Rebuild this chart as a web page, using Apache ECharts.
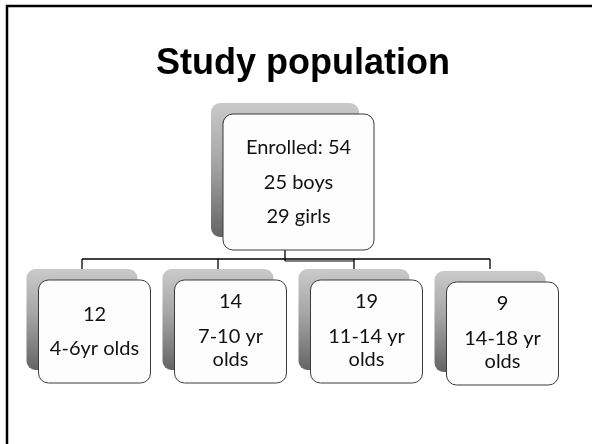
<!DOCTYPE html>
<html><head><meta charset="utf-8">
<script src="https://cdn.jsdelivr.net/npm/echarts@6/dist/echarts.min.js"></script>
<style>html,body{margin:0;padding:0;background:#fff}#c{width:592px;height:444px}</style>
</head><body><div id="c"></div>
<script>
// Data
const title = 'Study population';
const enrolledTotal = 54;
const boys = 25;
const girls = 29;
const ageGroups = ['4-6yr olds', '7-10 yr\nolds', '11-14 yr\nolds', '14-18 yr\nolds'];
const groupCounts = [12, 14, 19, 9];

const chart = echarts.init(document.getElementById('c'));
const FONT = 'Lato, "Open Sans", sans-serif';

function box(cx, top, wBack, hBack, dx, dy, wFront, hFront, texts) {
  const bx = cx - wBack / 2;
  const children = [
    {type: 'rect', shape: {x: bx, y: top, width: wBack, height: hBack, r: 9},
     style: {fill: new echarts.graphic.LinearGradient(0, 0, 0, 1, [
       {offset: 0, color: '#cacaca'}, {offset: 0.45, color: '#a5a5a5'}, {offset: 1, color: '#646464'}]),
       stroke: 'rgba(0,0,0,0)'}},
    {type: 'rect', shape: {x: bx + dx, y: top + dy, width: wFront, height: hFront, r: 10},
     style: {fill: '#fdfdfd', stroke: '#3a3a3a', lineWidth: 1}}
  ];
  texts.forEach(t => children.push({
    type: 'text', style: {text: t.text, x: bx + dx + wFront / 2, y: top + t.y, align: 'center',
      verticalAlign: 'middle', font: '20px ' + FONT, fill: '#111'}}));
  return children;
}

const option = {
  animation: false,
  title: {text: title, left: 151, top: 41,
    textStyle: {fontFamily: '"Liberation Sans", Arial, sans-serif', fontWeight: 'bold', fontSize: 36, color: '#000'}},
  grid: {left: 21, right: 27, top: 100, bottom: 40},
  xAxis: {type: 'category', data: ageGroups, show: false, boundaryGap: true},
  yAxis: {type: 'value', show: false, min: 0, max: 100},
  graphic: [
    {type: 'polyline', shape: {points: [[7, 446], [7, 6], [594, 6]]}, style: {stroke: '#000', lineWidth: 2.5, fill: null}}
  ],
  series: [
    {
      type: 'custom', name: 'groups',
      data: groupCounts.map((v, i) => [i, v]),
      renderItem: function (params, api) {
        const i = api.value(0);
        const c = api.coord([i, 0])[0];
        const bcx = c - 7;
        const g = {type: 'group', children: []};
        g.children.push({type: 'line', shape: {x1: bcx, y1: 259, x2: bcx, y2: 269}, style: {stroke: '#000', lineWidth: 1.3}});
        const lbl = ageGroups[i];
        const lines = lbl.split('\n');
        const texts = lines.length === 1
          ? [{text: String(api.value(1)), y: 46}, {text: lbl, y: 80}]
          : [{text: String(api.value(1)), y: 33}, {text: lines[0], y: 68}, {text: lines[1], y: 91}];
        const extra = i === 3 ? 2 : 0;
        g.children = g.children.concat(box(bcx, 269 + extra, 111, 101, 12, 11, 112, 103, texts));
        return g;
      },
      z: 3
    },
    {
      type: 'custom', name: 'enrolled',
      data: [[enrolledTotal, boys, girls]],
      renderItem: function (params, api) {
        const grid = params.coordSys;
        const cx = grid.x + grid.width / 2 - 8;
        const xs = ageGroups.map((_, i) => api.coord([i, 0])[0] - 7);
        const g = {type: 'group', children: [
          {type: 'line', shape: {x1: xs[0], y1: 259, x2: xs[3], y2: 259}, style: {stroke: '#000', lineWidth: 1.3}},
          {type: 'line', shape: {x1: cx, y1: 261, x2: xs[2], y2: 261}, style: {stroke: '#000', lineWidth: 1}},
          {type: 'line', shape: {x1: cx, y1: 250, x2: cx, y2: 261}, style: {stroke: '#000', lineWidth: 1.3}}
        ]};
        g.children = g.children.concat(box(cx, 103, 148, 134, 12, 11, 151, 136, [
          {text: 'Enrolled: ' + api.value(0), y: 45},
          {text: api.value(1) + ' boys', y: 80},
          {text: api.value(2) + ' girls', y: 114}
        ]));
        return g;
      },
      z: 2
    }
  ]
};
chart.setOption(option);
</script></body></html>
